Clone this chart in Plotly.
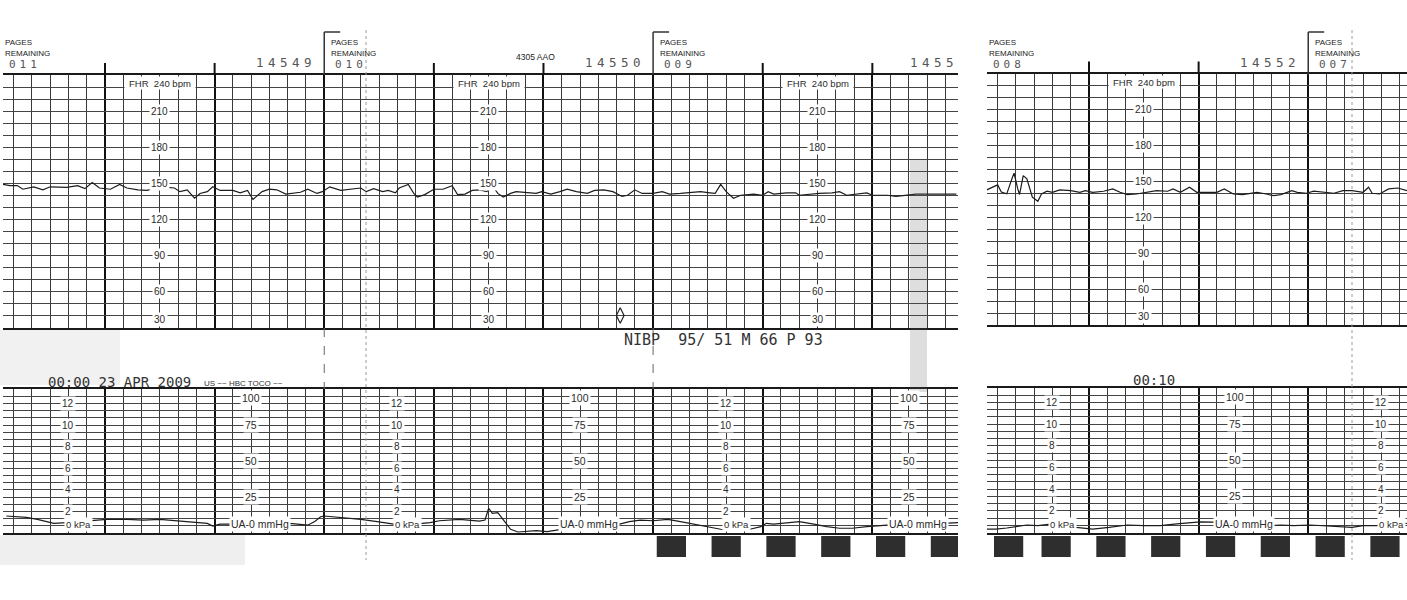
import plotly.graph_objects as go

W, H = 1407, 600

# ---------------- data read from the strip ----------------
# time in seconds (0 = first bold minute line of each strip), FHR in bpm, UA in mmHg
LEFT_FHR_T = [-56, -52, -48, -45, -39, -34, -30, -21, -15, -11, -7, -3, 3, 8, 12, 18, 23, 28, 34, 38,
              41, 45, 49, 52, 56, 59, 63, 70, 74, 78, 81, 86, 90, 94, 99, 103, 107, 111, 116, 119,
              123, 129, 134, 140, 143, 147, 152, 155, 159, 161, 166, 169, 171, 175, 180, 185, 190, 193, 197, 201,
              205, 209, 212, 215, 218, 222, 225, 231, 236, 239, 244, 249, 253, 258, 264, 268, 273, 278, 283, 286,
              290, 294, 300, 305, 309, 315, 320, 326, 331, 334, 337, 340, 344, 348, 355, 360, 363, 366, 373, 378,
              380, 386, 391, 398, 402, 406, 412, 417, 420, 428, 433, 439, 444, 452, 459, 466]
LEFT_FHR_BPM = [149, 148, 148, 145, 147, 144.5, 147, 146.5, 148, 145.5, 150.5, 146, 145, 149, 146, 144.5, 144, 146, 146.5, 146,
                143, 144.5, 137.5, 141.5, 143, 147, 144, 144, 142, 144, 136.5, 143, 145, 144.5, 141, 142, 142.5, 145, 141.5, 143,
                147, 144, 145, 146, 143, 145.5, 143, 144, 142, 146, 149, 141.5, 138.5, 140.5, 145, 145, 148, 140.5, 141, 144,
                144.5, 143, 148, 141.5, 138.5, 141.5, 143, 142.5, 141.5, 143, 141, 143, 145, 143, 141.5, 144, 144.5, 143, 139, 140,
                144.5, 141.5, 141.5, 143, 141, 141.5, 142, 143, 142, 141.5, 149, 143, 137.5, 140, 141, 140, 143, 141, 142, 142,
                140, 141, 141.5, 142, 143, 140, 141, 142, 140, 140, 139, 140, 141, 141, 141, 141]

RIGHT_FHR_T = [-56, -50, -48, -45, -42, -41, -39, -38, -36, -34, -31, -28, -26, -23, -20, -16, -10, -5, -2, 2,
               8, 13, 17, 21, 26, 32, 37, 43, 46, 50, 55, 59, 65, 70, 74, 79, 84, 89, 92, 97,
               101, 105, 111, 114, 119, 123, 128, 134, 139, 144, 150, 153, 155, 159, 164, 169, 174]
RIGHT_FHR_BPM = [142.8, 147, 141, 139.5, 153, 156.7, 143.6, 139, 154.7, 152, 136.7, 133.3, 139.4, 141.7, 140.8, 142.8, 142.2, 140.8, 142.2, 140.8,
                 141.7, 143.6, 140.8, 138.9, 139.4, 140.8, 142.2, 141.7, 143.6, 140.8, 145, 140.8, 140.8, 140.8, 143.6, 139.4, 138.9, 140, 140.8, 139.4,
                 138, 138.9, 142.2, 140.8, 140, 141.7, 140.8, 140, 142.2, 142.2, 140.8, 145, 140, 139.4, 143.6, 144.4, 142.2]

LEFT_UA_T = [-54, -48, -43, -37, -28, -21, -10, 1, 12, 21, 30, 39, 48, 56, 59, 63, 68, 85, 101, 107,
             111, 115, 118, 120, 125, 132, 140, 149, 158, 169, 178, 183, 194, 205, 208, 210, 212, 215, 218, 222,
             226, 231, 236, 242, 249, 260, 271, 280, 287, 293, 300, 308, 315, 322, 330, 337, 344, 353, 359, 362,
             366, 373, 380, 388, 395, 402, 409, 417, 428, 442, 461, 467]
LEFT_UA_MMHG = [11.8, 11.3, 10.9, 9.5, 6.7, 7.2, 8.4, 9.5, 9.5, 9.0, 9.5, 8.5, 7.9, 6.7, 4.8, 6.2, 6.2, 5.8, 6.7, 6.2,
                5.4, 8.2, 11.3, 11.8, 11.3, 10.2, 9.5, 7.9, 6.2, 6.2, 7.2, 8.5, 9.5, 8.2, 9.0, 17.2, 13.7, 14.1, 9.0, 2.6,
                0.7, 1.0, 1.6, 1.0, 2.4, 3.3, 4.3, 5.6, 7.9, 9.0, 8.5, 9.5, 7.9, 6.2, 4.4, 2.6, 2.1, 2.6, 4.4, 6.7,
                6.2, 7.2, 7.9, 6.2, 4.4, 3.3, 3.3, 4.4, 5.4, 5.6, 6.7, 7.2]

RIGHT_UA_T = [-56, -51, -45, -39, -34, -28, -20, -7, 2, 11, 21, 30, 39, 48, 57, 61, 68, 76, 88, 97,
              105, 112, 121, 130, 139, 144, 150, 159, 170, 174]
RIGHT_UA_MMHG = [2.4, 2.4, 3.1, 4.2, 5.2, 4.7, 5.9, 3.5, 2.4, 3.5, 5.2, 4.7, 4.7, 5.9, 7.0, 7.4, 7.2, 6.2, 5.4, 4.7,
                 5.2, 4.7, 5.2, 4.7, 4.1, 3.5, 4.7, 4.7, 5.9, 6.3]

# scale labels printed on the paper
FHR_SCALE = [210, 180, 150, 120, 90, 60]
FHR_BOTTOM = 30
FHR_TOP = 240
UA_MMHG_SCALE = [75, 50, 25]
UA_TOP = 100
UA_KPA_SCALE = [12, 10, 8, 6, 4, 2]
MMHG_PER_KPA = 7.5

# page structure (page starts in seconds) and printed page info
LEFT_PAGE_STARTS = [-60, 120, 300]
LEFT_PAGES_REMAINING = ["011", "010", "009"]
LEFT_PAGE_NUMBERS = ["14549", "14550", "1455"]
RIGHT_PAGE_STARTS = [-60, 120]
RIGHT_PAGES_REMAINING = ["008", "007"]
RIGHT_PAGE_NUMBERS = ["14552"]

LEFT_EVENT_T = [282]
LEFT_EVENT_BPM = [40]

LEFT_BLOCKS_T = [302, 332, 362, 392, 422, 452]
RIGHT_BLOCKS_T = [-52, -26, 4, 34, 64, 94, 124, 154]
BLOCK_LEN_S = 16

# ---------------- geometry ----------------
PX_PER_S = 1.827


def px(x):
    return x / W


def py(y):
    return 1 - y / H


panels = [
    dict(xa="x", ya="y", xb="x2", yb="y2", x0=3, x1=958, t0=105,
         fhr=(75, 327.5), ua=(389, 533),
         fhr_t=LEFT_FHR_T, fhr_v=LEFT_FHR_BPM, ua_t=LEFT_UA_T, ua_v=LEFT_UA_MMHG,
         pages=LEFT_PAGE_STARTS, remaining=LEFT_PAGES_REMAINING, numbers=LEFT_PAGE_NUMBERS,
         blocks=LEFT_BLOCKS_T, gapdash=True),
    dict(xa="x3", ya="y3", xb="x4", yb="y4", x0=987, x1=1407, t0=1089,
         fhr=(73.5, 325), ua=(388, 532.5),
         fhr_t=RIGHT_FHR_T, fhr_v=RIGHT_FHR_BPM, ua_t=RIGHT_UA_T, ua_v=RIGHT_UA_MMHG,
         pages=RIGHT_PAGE_STARTS, remaining=RIGHT_PAGES_REMAINING, numbers=RIGHT_PAGE_NUMBERS,
         blocks=RIGHT_BLOCKS_T, gapdash=False),
]

fig = go.Figure()
layout = dict(width=W, height=H, margin=dict(l=0, r=0, t=0, b=0),
              paper_bgcolor="white", plot_bgcolor="white", showlegend=False)
annotations = []
shapes = []

LABEL_FONT = "Liberation Sans, Arial, sans-serif"
LCD_FONT = "DejaVu Sans Mono, monospace"
INK = "#2a2a2a"


def axis_name(ref):
    return "xaxis" + ref[1:] if ref.startswith("x") else "yaxis" + ref[1:]


def xcfg(p, anchor):
    rng = [(p["x0"] - p["t0"]) / PX_PER_S, (p["x1"] - p["t0"]) / PX_PER_S]
    return dict(domain=[px(p["x0"]), px(p["x1"])], range=rng, anchor=anchor,
                showticklabels=False, ticks="", zeroline=False,
                showgrid=True, tick0=0, dtick=60, gridcolor="#111111", gridwidth=2,
                minor=dict(tick0=0, dtick=10, showgrid=True, gridcolor="#3a3a3a", gridwidth=1, ticks=""),
                showline=True, mirror=True, linecolor="#1a1a1a", linewidth=1.5, fixedrange=True)


def ycfg(dom, rng, anchor, dtick):
    return dict(domain=[py(dom[1]), py(dom[0])], range=rng, anchor=anchor,
                showticklabels=False, ticks="", zeroline=False, showline=False,
                showgrid=True, tick0=0, dtick=dtick, gridcolor="#444444", gridwidth=1, fixedrange=True)


def ann(text, x, y, xref, yref, size=10, family=LABEL_FONT, color=INK, bg=None,
        xanchor="center", yanchor="middle", xshift=0, yshift=0, **kw):
    d = dict(text=text, x=x, y=y, xref=xref, yref=yref, showarrow=False,
             font=dict(size=size, family=family, color=color),
             xanchor=xanchor, yanchor=yanchor, xshift=xshift, yshift=yshift, borderpad=1)
    if bg:
        d["bgcolor"] = bg
    d.update(kw)
    annotations.append(d)


def spaced(s, sp):
    return '<span style="letter-spacing:%spx">%s</span>' % (sp, s)


for p in panels:
    layout[axis_name(p["xa"])] = xcfg(p, p["ya"])
    layout[axis_name(p["ya"])] = ycfg(p["fhr"], [FHR_BOTTOM, FHR_TOP], p["xa"], 10)
    layout[axis_name(p["xb"])] = xcfg(p, p["yb"])
    layout[axis_name(p["yb"])] = ycfg(p["ua"], [0, UA_TOP], p["xb"], 5)

    tmin = (p["x0"] - p["t0"]) / PX_PER_S
    tmax = (p["x1"] - p["t0"]) / PX_PER_S

    def tx(t, p=p):
        return p["t0"] + t * PX_PER_S

    # traces
    fig.add_trace(go.Scatter(x=p["fhr_t"], y=p["fhr_v"], xaxis=p["xa"], yaxis=p["ya"], mode="lines",
                             line=dict(color="#1c1c1c", width=1.2), hoverinfo="skip"))
    fig.add_trace(go.Scatter(x=p["ua_t"], y=p["ua_v"], xaxis=p["xb"], yaxis=p["yb"], mode="lines",
                             line=dict(color="#1c1c1c", width=1.2), hoverinfo="skip"))

    for i, ps in enumerate(p["pages"]):
        # FHR scale column
        col = ps + 90
        if tmin < col < tmax:
            for v in FHR_SCALE:
                ann(str(v), col, v, p["xa"], p["ya"], size=10, bg="white")
            ann(str(FHR_BOTTOM), col, FHR_BOTTOM, p["xa"], p["ya"], size=10, bg="white",
                yanchor="bottom", yshift=1)
            ann("FHR&nbsp;&nbsp;240 bpm", col, FHR_TOP, p["xa"], p["ya"], size=9.5, bg="white",
                yanchor="top", yshift=-1, width=68, height=10)
        # kPa column
        kc = ps + 40
        if tmin < kc < tmax:
            for k in UA_KPA_SCALE:
                ann(str(k), kc, k * MMHG_PER_KPA, p["xb"], p["yb"], size=10, bg="white")
            ann("0 kPa", kc, 0, p["xb"], p["yb"], size=9.5, bg="white", xanchor="left",
                yanchor="bottom", xshift=-4, yshift=1)
        # mmHg column
        mc = ps + 140
        if tmin < mc < tmax:
            for v in UA_MMHG_SCALE:
                ann(str(v), mc, v, p["xb"], p["yb"], size=10.5, bg="white")
            ann(str(UA_TOP), mc, UA_TOP, p["xb"], p["yb"], size=10.5, bg="white",
                yanchor="top", yshift=-1)
            ann("UA-0 mmHg", mc, 0, p["xb"], p["yb"], size=10.5, bg="white", xanchor="left",
                yanchor="bottom", xshift=-22, yshift=1)

        # page header
        ppx = tx(ps)
        hx = max(ppx + 5, p["x0"])
        ann("PAGES", px(hx), py(43), "paper", "paper", size=8, xanchor="left", color="#222")
        ann("REMAINING", px(hx), py(54), "paper", "paper", size=8, xanchor="left", color="#222")
        ann(spaced(p["remaining"][i], 4), px(hx + 4), py(64), "paper", "paper", size=11,
            family=LCD_FONT, xanchor="left", color="#555")
        if p["x0"] < ppx < p["x1"]:
            shapes.append(dict(type="line", xref="paper", yref="paper", x0=px(ppx), x1=px(ppx),
                               y0=py(32), y1=py(75), line=dict(color="#333", width=1.5)))
            shapes.append(dict(type="line", xref="paper", yref="paper", x0=px(ppx), x1=px(ppx + 16),
                               y0=py(32), y1=py(32), line=dict(color="#333", width=1.5)))
            if p["gapdash"]:
                shapes.append(dict(type="line", xref="paper", yref="paper", x0=px(ppx), x1=px(ppx),
                                   y0=py(328), y1=py(389), line=dict(color="#666", width=1, dash="dash")))

    # page numbers (printed just before the next page start)
    for i, num in enumerate(p["numbers"]):
        pe = p["pages"][i] + 180
        right = min(tx(pe) - 6, p["x1"] + 2)
        ann(spaced(num, 4.5), px(right), py(63), "paper", "paper", size=12.5, family=LCD_FONT,
            xanchor="right", color="#555")

    # minute ticks above the FHR grid
    t = 0
    while t < tmax:
        if t > tmin and all(abs(t - ps) > 1 for ps in p["pages"]):
            shapes.append(dict(type="line", xref=p["xa"], yref="paper", x0=t, x1=t,
                               y0=py(p["fhr"][0]), y1=py(p["fhr"][0] - 12), line=dict(color="#111", width=2)))
        t += 60

    # printed marker blocks at bottom edge
    for b in p["blocks"]:
        b0 = max(b, tmin)
        shapes.append(dict(type="rect", xref=p["xb"], yref="paper", x0=b0, x1=b + BLOCK_LEN_S,
                           y0=py(557), y1=py(536), fillcolor="#2e2e2e", line=dict(width=0)))

# event marker on the left strip
fig.add_trace(go.Scatter(x=LEFT_EVENT_T, y=LEFT_EVENT_BPM, xaxis="x", yaxis="y", mode="markers",
                         marker=dict(symbol="diamond-tall-open", size=11, color="#222", line=dict(width=1.2)),
                         hoverinfo="skip"))

# free text on the strips
ann("4305 AAO", px(535), py(57), "paper", "paper", size=8.5, color="#222")
ann("NIBP&nbsp;&nbsp;95/ 51 M 66 P 93", px(622), py(340), "paper", "paper", size=15,
    family=LCD_FONT, xanchor="left", color="#333")
ann("00:00 23 APR 2009", px(46), py(382), "paper", "paper", size=14, family=LCD_FONT,
    xanchor="left", color="#333")
ann("US ~~ HBC TOCO ~~", px(202), py(383), "paper", "paper", size=8, xanchor="left", color="#333")
ann("00:10", px(1131), py(380), "paper", "paper", size=14, family=LCD_FONT, xanchor="left", color="#333")

# scanner artefacts: faint dotted columns and a noisy band
for xx in (366, 1352):
    shapes.append(dict(type="line", xref="paper", yref="paper", x0=px(xx), x1=px(xx), y0=py(30), y1=py(560),
                       line=dict(color="#9a9a9a", width=1, dash="dot")))
shapes.append(dict(type="rect", xref="paper", yref="paper", x0=px(910), x1=px(927), y0=py(392), y1=py(160),
                   fillcolor="rgba(90,90,90,0.2)", line=dict(width=0), layer="above"))
shapes.append(dict(type="rect", xref="paper", yref="paper", x0=px(0), x1=px(245), y0=py(565), y1=py(535),
                   fillcolor="rgba(120,120,120,0.12)", line=dict(width=0)))
shapes.append(dict(type="rect", xref="paper", yref="paper", x0=px(0), x1=px(120), y0=py(385), y1=py(330),
                   fillcolor="rgba(120,120,120,0.1)", line=dict(width=0)))

layout["annotations"] = annotations
layout["shapes"] = shapes
fig.update_layout(**layout)

fig.write_html("out.html")
